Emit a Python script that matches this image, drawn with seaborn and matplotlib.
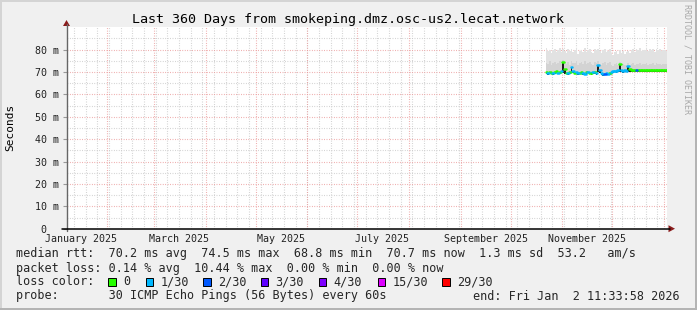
import numpy as np
import pandas as pd
import matplotlib
matplotlib.use("Agg")
import matplotlib.pyplot as plt
from matplotlib.patches import Rectangle, Polygon
from matplotlib.lines import Line2D
import seaborn as sns

# ---------------- data ----------------
title = "Last 360 Days from smokeping.dmz.osc-us2.lecat.network"
end_time = pd.Timestamp("2026-01-02 11:33:58")
first_day = "2025-10-22"

median_ms = [69.8, 69.5, 70.1, 69.7, 69.4, 69.9, 70.3, 69.6, 69.8, 70.6,
             74.5, 71.2,
             69.7, 69.5, 69.9,
             72.4, 70.4,
             69.6, 69.8, 69.4, 69.7, 70.0, 69.5, 69.3, 69.8, 70.2, 69.6, 69.4, 69.9, 70.1, 69.5,
             73.0, 71.0,
             69.4, 69.1, 69.3, 69.6, 69.2, 69.5, 69.8,
             70.3, 70.6, 70.4, 70.7,
             73.4, 71.0,
             70.5, 70.8, 70.6,
             72.7, 71.2,
             70.8, 70.7, 70.8, 70.7, 70.8, 70.7, 70.7, 70.8, 70.7, 70.8, 70.7,
             70.7, 70.8, 70.7, 70.8, 70.7, 70.7, 70.8, 70.7, 70.8, 70.7, 70.7]

loss_level = [0, 1, 0, 0, 1, 0, 0, 1, 0, 1,
              0, 0,
              0, 1, 0,
              1, 1,
              0, 1, 1, 0, 0, 1, 1, 0, 1, 0, 0, 1, 0, 1,
              1, 1,
              1, 1, 2, 1, 1, 0, 1,
              1, 1, 1, 1,
              0, 1,
              1, 1, 1,
              1, 0,
              0, 0, 0, 2, 0, 0, 0, 0, 0, 0, 0,
              0, 0, 0, 0, 0, 0, 0, 0, 0, 0, 0]

smoke_max = [80.5, 79.2, 80.0, 78.4, 79.6, 80.3, 78.8, 79.9, 80.6, 79.0,
             80.2, 79.5, 78.6, 80.1, 79.3, 80.4, 78.9, 79.7, 80.5, 78.2,
             79.4, 80.0, 79.1, 80.6, 78.7, 79.8, 80.2, 79.0, 78.5, 80.3,
             79.6, 80.4, 79.2, 78.4, 79.9, 80.1, 78.8, 79.5, 80.2, 78.0,
             77.8, 78.9, 79.5, 78.2, 79.8, 78.6, 79.2, 77.9, 78.8, 79.4, 78.5,
             79.6, 80.4, 79.1, 80.2, 79.8, 80.6, 79.3, 80.0, 79.7, 80.5, 79.2,
             80.1, 79.9, 80.3, 79.0, 80.4, 79.6, 80.2, 79.4, 80.0, 79.8, 79.5]

smoke_mid = [74.2, 73.5, 74.8, 73.2, 74.0, 74.6, 73.4, 74.1, 74.9, 73.7,
             75.5, 74.3, 73.6, 74.4, 73.3, 74.7, 73.9, 74.2, 74.8, 73.1,
             73.8, 74.5, 73.5, 74.9, 73.4, 74.0, 74.6, 73.7, 73.2, 74.5,
             73.9, 74.8, 73.6, 73.0, 74.1, 74.4, 73.3, 73.8, 74.3, 72.9,
             72.8, 73.4, 73.9, 73.0, 74.5, 73.2, 73.6, 72.9, 73.3, 74.0, 73.1,
             73.4, 73.9, 73.2, 73.7, 73.5, 74.0, 73.3, 73.6, 73.4, 73.8, 73.2,
             73.7, 73.5, 73.9, 73.1, 73.8, 73.4, 73.6, 73.3, 73.7, 73.5, 73.4]

smoke_min = [69.0, 68.8, 69.3, 69.0, 68.7, 69.1, 69.5, 68.9, 69.0, 69.6,
             69.4, 69.2, 68.9, 68.8, 69.1, 69.6, 69.5, 68.9, 69.0, 68.7,
             68.9, 69.2, 68.8, 68.6, 69.0, 69.4, 68.9, 68.7, 69.1, 69.3,
             68.8, 69.8, 69.5, 68.7, 68.4, 68.6, 68.9, 68.5, 68.8, 69.0,
             69.5, 69.8, 69.6, 69.9, 70.0, 69.9, 69.7, 70.0, 69.8, 70.1, 70.1,
             70.1, 70.0, 70.1, 70.0, 70.1, 70.0, 70.0, 70.1, 70.0, 70.1, 70.0,
             70.0, 70.1, 70.0, 70.1, 70.0, 70.0, 70.1, 70.0, 70.1, 70.0, 70.0]

loss_labels = ["0", "1/30", "2/30", "3/30", "4/30", "15/30", "29/30"]
loss_colors = ["#26ff00", "#00b8ff", "#0059ff", "#5e00ff", "#7e00ff", "#dd00ff", "#ff0000"]

y_ticks = [0, 10, 20, 30, 40, 50, 60, 70, 80]
y_ticklabels = ["0  ", "10 m", "20 m", "30 m", "40 m", "50 m", "60 m", "70 m", "80 m"]
x_label_months = ["2025-01-01", "2025-03-01", "2025-05-01", "2025-07-01", "2025-09-01", "2025-11-01"]
x_labels = ["January 2025", "March 2025", "May 2025", "July 2025", "September 2025", "November 2025"]

legend_line1 = "median rtt:  70.2 ms avg  74.5 ms max  68.8 ms min  70.7 ms now  1.3 ms sd  53.2   am/s"
legend_line2 = "packet loss: 0.14 % avg  10.44 % max  0.00 % min  0.00 % now"
legend_line4 = "probe:       30 ICMP Echo Pings (56 Bytes) every 60s"
end_text = "end: Fri Jan  2 11:33:58 2026"

# ---------------- figure ----------------
W, H = 697, 310
sns.set_style("white")
plt.rcParams["font.family"] = ["DejaVu Sans Mono"]
fig = plt.figure(figsize=(W / 100, H / 100), dpi=100, facecolor="#f0f0f0")

def fx(x):
    return x / W

def fy(y):
    return 1 - y / H

L, R, T, B = 66.5, 666.5, 27.2, 228.7
ax = fig.add_axes([fx(L), fy(B), (R - L) / W, (B - T) / H])
ax.set_facecolor("white")
for s in ax.spines.values():
    s.set_visible(False)

start_time = end_time - pd.Timedelta(days=360)
ax.set_xlim(start_time, end_time)
ax.set_ylim(0, 90)

# grid
dot = (0, (0.7, 1.5))
for y in range(5, 90, 10):
    ax.axhline(y, color="#c8c8c8", lw=0.8, ls=dot, zorder=0.5)
for y in range(10, 90, 10):
    ax.axhline(y, color="#eb9a9a", lw=0.8, ls=dot, zorder=0.6)
for d in pd.date_range("2025-01-12", end_time, freq="7D"):
    ax.axvline(d, color="#c8c8c8", lw=0.8, ls=dot, zorder=0.5)
for d in pd.date_range("2025-02-01", end_time, freq="MS"):
    ax.axvline(d, color="#eb9a9a", lw=0.8, ls=dot, zorder=0.6)

# smoke
dates = pd.date_range(first_day, periods=len(median_ms), freq="D")
dates_ext = list(dates) + [dates[-1] + pd.Timedelta(days=1)]
def ext(v):
    return list(v) + [v[-1]]
ax.fill_between(dates_ext, ext(smoke_min), ext(smoke_max), step="post", color="#e2e2e2", lw=0, zorder=1)
ax.fill_between(dates_ext, ext(smoke_min), ext(smoke_mid), step="post", color="#d3d3d3", lw=0, zorder=1.1)
ax.fill_between(dates_ext, ext(smoke_min), ext(median_ms), step="post", color="#1e1e1e", lw=0, zorder=1.2)

# median line: one short horizontal segment per step, coloured by loss
seg_rows = []
for i, (d, m, lv) in enumerate(zip(dates, median_ms, loss_level)):
    seg_rows.append({"x": d, "y": m, "seg": i, "loss": lv})
    seg_rows.append({"x": d + pd.Timedelta(days=1), "y": m, "seg": i, "loss": lv})
seg_df = pd.DataFrame(seg_rows)
palette = {i: c for i, c in enumerate(loss_colors)}
sns.lineplot(data=seg_df, x="x", y="y", units="seg", hue="loss", palette=palette,
             estimator=None, sort=False, lw=1.8, legend=False, ax=ax, zorder=3)

# ticks
ax.set_yticks(y_ticks)
ax.set_yticklabels(y_ticklabels)
ax.tick_params(axis="y", length=3, width=0.8, color="#999999", pad=2.5, labelsize=7.2,
               labelcolor="#222222", left=True)
lab_pos = [pd.Timestamp(m) + pd.Timedelta(days=15) for m in x_label_months]
ax.set_xticks(lab_pos)
ax.set_xticklabels(x_labels)
ax.tick_params(axis="x", length=0, pad=4.0, labelsize=7.2, labelcolor="#222222")
ax.set_xlabel("")
ax.set_ylabel("")
ax.grid(False)

# axes lines and arrows (figure pixel coords)
fig.add_artist(Line2D([fx(L), fx(L)], [fy(B + 2), fy(24)], color="#666666", lw=1.0))
fig.add_artist(Line2D([fx(62), fx(670)], [fy(B), fy(B)], color="#000000", lw=1.1))
fig.add_artist(Polygon([[fx(L - 3.5), fy(26)], [fx(L + 3.5), fy(26)], [fx(L), fy(20)]],
                       closed=True, color="#8b1c1c", lw=0))
fig.add_artist(Polygon([[fx(668.5), fy(B - 3.5)], [fx(668.5), fy(B + 3.5)], [fx(675), fy(B)]],
                       closed=True, color="#8b1c1c", lw=0))

# frame shading
fig.add_artist(Rectangle((0, fy(2)), 1, 2 / H, color="#d4d4d4", lw=0, transform=fig.transFigure))
fig.add_artist(Rectangle((0, 0), 2 / W, 1, color="#d4d4d4", lw=0, transform=fig.transFigure))
fig.add_artist(Rectangle((0, 0), 1, 2 / H, color="#b4b4b4", lw=0, transform=fig.transFigure))
fig.add_artist(Rectangle((fx(W - 2), 0), 2 / W, 1, color="#b4b4b4", lw=0, transform=fig.transFigure))

# texts
fig.text(fx(347.5), fy(19.5), title, ha="center", va="center", fontsize=9.6, color="black")
fig.text(fx(10.5), fy(127), "Seconds", rotation=90, ha="center", va="center", fontsize=8, color="black")
fig.text(fx(687), fy(59), "RRDTOOL / TOBI OETIKER", rotation=270, ha="center", va="center",
         fontsize=6, color="#a8a8a8")

LEG = 8.5
fig.text(fx(16), fy(254), legend_line1, ha="left", va="center", fontsize=LEG)
fig.text(fx(16), fy(268.3), legend_line2, ha="left", va="center", fontsize=LEG)
fig.text(fx(16), fy(281.7), "loss color:", ha="left", va="center", fontsize=LEG)
box_x = [108.3, 145.7, 203.3, 261.0, 319.0, 377.7, 442.3]
for bx, lab, col in zip(box_x, loss_labels, loss_colors):
    fig.add_artist(Rectangle((fx(bx), fy(285.5)), 7.4 / W, 7.4 / H, facecolor=col,
                             edgecolor="black", lw=0.7, transform=fig.transFigure))
    fig.text(fx(bx + 14.5), fy(281.7), lab, ha="left", va="center", fontsize=LEG)
fig.text(fx(16), fy(296), legend_line4, ha="left", va="center", fontsize=LEG)
fig.text(fx(680), fy(296), end_text, ha="right", va="center", fontsize=LEG)

fig.savefig("out.png", dpi=100, facecolor=fig.get_facecolor())
